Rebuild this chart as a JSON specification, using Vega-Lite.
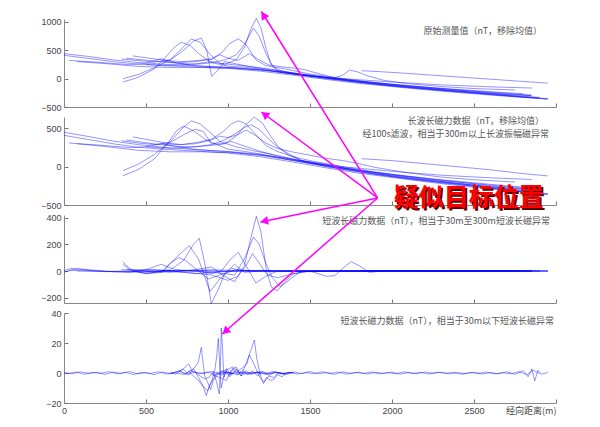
{
"$schema": "https://vega.github.io/schema/vega-lite/v6.json",
"autosize": {"type": "pad"},
"padding": {"left": 40, "top": 10, "right": 5, "bottom": 5},
"background": "white",
"spacing": 10,
"bounds": "flush",
"config": {
  "view": {"stroke": null},
  "axis": {"domainColor": "#888", "tickColor": "#777", "labelColor": "#444", "labelFont": "Liberation Sans", "labelFontSize": 9, "grid": false, "tickSize": -4, "labelPadding": 7, "labelOverlap": false, "labelFlush": false, "labelBound": false, "format": "d"}
},
"datasets": {
"raw": [
{"s":1,"x":0,"y":440},{"s":1,"x":150,"y":390},{"s":1,"x":300,"y":330},{"s":1,"x":450,"y":285},{"s":1,"x":600,"y":255},{"s":1,"x":800,"y":225},{"s":1,"x":1000,"y":195},{"s":1,"x":1200,"y":150},{"s":1,"x":1400,"y":80},{"s":1,"x":1600,"y":10},{"s":1,"x":1800,"y":-60},{"s":1,"x":2000,"y":-120},{"s":1,"x":2200,"y":-170},{"s":1,"x":2400,"y":-220},{"s":1,"x":2600,"y":-270},{"s":1,"x":2800,"y":-320},{"s":1,"x":2950,"y":-355},
{"s":2,"x":0,"y":410},{"s":2,"x":150,"y":355},{"s":2,"x":300,"y":300},{"s":2,"x":450,"y":255},{"s":2,"x":600,"y":230},{"s":2,"x":800,"y":205},{"s":2,"x":1000,"y":180},{"s":2,"x":1200,"y":130},{"s":2,"x":1400,"y":60},{"s":2,"x":1600,"y":-15},{"s":2,"x":1800,"y":-85},{"s":2,"x":2000,"y":-140},{"s":2,"x":2200,"y":-195},{"s":2,"x":2400,"y":-245},{"s":2,"x":2600,"y":-290},{"s":2,"x":2800,"y":-330},{"s":2,"x":2900,"y":-345},
{"s":3,"x":30,"y":320},{"s":3,"x":200,"y":290},{"s":3,"x":400,"y":245},{"s":3,"x":500,"y":270},{"s":3,"x":593,"y":350},{"s":3,"x":680,"y":280},{"s":3,"x":800,"y":225},{"s":3,"x":1000,"y":200},{"s":3,"x":1200,"y":160},{"s":3,"x":1400,"y":95},{"s":3,"x":1600,"y":25},{"s":3,"x":1800,"y":-45},{"s":3,"x":2000,"y":-105},{"s":3,"x":2200,"y":-150},{"s":3,"x":2400,"y":-200},{"s":3,"x":2600,"y":-250},{"s":3,"x":2850,"y":-300},
{"s":4,"x":80,"y":300},{"s":4,"x":250,"y":265},{"s":4,"x":450,"y":215},{"s":4,"x":650,"y":195},{"s":4,"x":850,"y":195},{"s":4,"x":1050,"y":180},{"s":4,"x":1250,"y":140},{"s":4,"x":1450,"y":70},{"s":4,"x":1650,"y":0},{"s":4,"x":1850,"y":-60},{"s":4,"x":2050,"y":-110},{"s":4,"x":2250,"y":-160},{"s":4,"x":2450,"y":-200},{"s":4,"x":2650,"y":-240},{"s":4,"x":2800,"y":-265},
{"s":5,"x":360,"y":-60},{"s":5,"x":450,"y":20},{"s":5,"x":550,"y":170},{"s":5,"x":620,"y":380},{"s":5,"x":680,"y":570},{"s":5,"x":715,"y":640},{"s":5,"x":770,"y":580},{"s":5,"x":830,"y":420},{"s":5,"x":900,"y":280},{"s":5,"x":1000,"y":220},{"s":5,"x":1100,"y":200},{"s":5,"x":1200,"y":165},{"s":5,"x":1300,"y":120},{"s":5,"x":1500,"y":40},{"s":5,"x":1700,"y":-30},{"s":5,"x":1900,"y":-100},{"s":5,"x":2100,"y":-160},{"s":5,"x":2300,"y":-210},{"s":5,"x":2500,"y":-255},{"s":5,"x":2700,"y":-300},{"s":5,"x":2950,"y":-360},
{"s":6,"x":360,"y":0},{"s":6,"x":450,"y":70},{"s":6,"x":550,"y":190},{"s":6,"x":650,"y":340},{"s":6,"x":720,"y":530},{"s":6,"x":776,"y":700},{"s":6,"x":830,"y":640},{"s":6,"x":890,"y":430},{"s":6,"x":950,"y":270},{"s":6,"x":1050,"y":240},{"s":6,"x":1150,"y":210},{"s":6,"x":1250,"y":170},{"s":6,"x":1400,"y":100},{"s":6,"x":1600,"y":20},{"s":6,"x":1800,"y":-50},{"s":6,"x":2000,"y":-110},{"s":6,"x":2200,"y":-165},{"s":6,"x":2400,"y":-215},{"s":6,"x":2600,"y":-265},{"s":6,"x":2800,"y":-310},{"s":6,"x":2900,"y":-330},
{"s":7,"x":350,"y":345},{"s":7,"x":450,"y":320},{"s":7,"x":550,"y":290},{"s":7,"x":650,"y":330},{"s":7,"x":730,"y":500},{"s":7,"x":790,"y":660},{"s":7,"x":837,"y":715},{"s":7,"x":870,"y":500},{"s":7,"x":900,"y":40},{"s":7,"x":940,"y":150},{"s":7,"x":980,"y":300},{"s":7,"x":1050,"y":260},{"s":7,"x":1150,"y":200},{"s":7,"x":1300,"y":140},{"s":7,"x":1500,"y":50},{"s":7,"x":1700,"y":-20},{"s":7,"x":1900,"y":-90},{"s":7,"x":2100,"y":-150},{"s":7,"x":2300,"y":-200},{"s":7,"x":2500,"y":-240},{"s":7,"x":2700,"y":-280},{"s":7,"x":2850,"y":-300},
{"s":8,"x":420,"y":400},{"s":8,"x":520,"y":360},{"s":8,"x":620,"y":320},{"s":8,"x":720,"y":300},{"s":8,"x":820,"y":320},{"s":8,"x":900,"y":350},{"s":8,"x":960,"y":450},{"s":8,"x":1010,"y":620},{"s":8,"x":1063,"y":700},{"s":8,"x":1110,"y":600},{"s":8,"x":1170,"y":330},{"s":8,"x":1230,"y":230},{"s":8,"x":1350,"y":170},{"s":8,"x":1500,"y":80},{"s":8,"x":1700,"y":0},{"s":8,"x":1900,"y":-70},{"s":8,"x":2100,"y":-130},{"s":8,"x":2300,"y":-180},{"s":8,"x":2500,"y":-220},{"s":8,"x":2700,"y":-260},{"s":8,"x":2850,"y":-290},
{"s":9,"x":500,"y":250},{"s":9,"x":650,"y":230},{"s":9,"x":800,"y":260},{"s":9,"x":900,"y":300},{"s":9,"x":980,"y":250},{"s":9,"x":1050,"y":330},{"s":9,"x":1100,"y":550},{"s":9,"x":1140,"y":880},{"s":9,"x":1173,"y":1060},{"s":9,"x":1200,"y":900},{"s":9,"x":1230,"y":550},{"s":9,"x":1260,"y":280},{"s":9,"x":1300,"y":130},{"s":9,"x":1350,"y":100},{"s":9,"x":1450,"y":60},{"s":9,"x":1600,"y":0},{"s":9,"x":1800,"y":-70},{"s":9,"x":2000,"y":-130},{"s":9,"x":2200,"y":-180},{"s":9,"x":2400,"y":-230},{"s":9,"x":2600,"y":-280},{"s":9,"x":2800,"y":-330},{"s":9,"x":2950,"y":-360},
{"s":10,"x":1815,"y":140},{"s":10,"x":2000,"y":110},{"s":10,"x":2200,"y":70},{"s":10,"x":2400,"y":30},{"s":10,"x":2600,"y":-10},{"s":10,"x":2800,"y":-50},{"s":10,"x":2950,"y":-80},
{"s":11,"x":380,"y":360},{"s":11,"x":480,"y":330},{"s":11,"x":580,"y":300},{"s":11,"x":700,"y":270},{"s":11,"x":800,"y":250},{"s":11,"x":900,"y":280},{"s":11,"x":980,"y":330},{"s":11,"x":1050,"y":420},{"s":11,"x":1100,"y":600},{"s":11,"x":1155,"y":890},{"s":11,"x":1190,"y":750},{"s":11,"x":1230,"y":450},{"s":11,"x":1270,"y":220},{"s":11,"x":1320,"y":140},{"s":11,"x":1450,"y":60},{"s":11,"x":1700,"y":0},{"s":11,"x":2000,"y":-60},{"s":11,"x":2300,"y":-110},{"s":11,"x":2600,"y":-145},{"s":11,"x":2853,"y":-166},
{"s":12,"x":600,"y":300},{"s":12,"x":700,"y":280},{"s":12,"x":800,"y":300},{"s":12,"x":900,"y":340},{"s":12,"x":950,"y":420},{"s":12,"x":1000,"y":360},{"s":12,"x":1060,"y":320},{"s":12,"x":1130,"y":440},{"s":12,"x":1190,"y":330},{"s":12,"x":1250,"y":240},{"s":12,"x":1350,"y":200},{"s":12,"x":1450,"y":170},{"s":12,"x":1550,"y":90},{"s":12,"x":1650,"y":15},{"s":12,"x":1700,"y":60},{"s":12,"x":1740,"y":150},{"s":12,"x":1790,"y":120},{"s":12,"x":1850,"y":50},{"s":12,"x":1950,"y":-30},{"s":12,"x":2100,"y":-90},{"s":12,"x":2300,"y":-140},{"s":12,"x":2500,"y":-175},{"s":12,"x":2750,"y":-200}
],
"long": [
{"s":1,"x":0,"y":450},{"s":1,"x":150,"y":395},{"s":1,"x":300,"y":335},{"s":1,"x":450,"y":290},{"s":1,"x":600,"y":255},{"s":1,"x":800,"y":225},{"s":1,"x":1000,"y":195},{"s":1,"x":1200,"y":150},{"s":1,"x":1400,"y":80},{"s":1,"x":1600,"y":10},{"s":1,"x":1800,"y":-60},{"s":1,"x":2000,"y":-120},{"s":1,"x":2200,"y":-170},{"s":1,"x":2400,"y":-220},{"s":1,"x":2600,"y":-270},{"s":1,"x":2800,"y":-320},{"s":1,"x":2950,"y":-355},
{"s":2,"x":0,"y":410},{"s":2,"x":150,"y":355},{"s":2,"x":300,"y":300},{"s":2,"x":450,"y":255},{"s":2,"x":600,"y":230},{"s":2,"x":800,"y":205},{"s":2,"x":1000,"y":180},{"s":2,"x":1200,"y":130},{"s":2,"x":1400,"y":60},{"s":2,"x":1600,"y":-15},{"s":2,"x":1800,"y":-85},{"s":2,"x":2000,"y":-140},{"s":2,"x":2200,"y":-195},{"s":2,"x":2400,"y":-245},{"s":2,"x":2600,"y":-290},{"s":2,"x":2800,"y":-330},{"s":2,"x":2900,"y":-345},
{"s":3,"x":30,"y":310},{"s":3,"x":200,"y":285},{"s":3,"x":400,"y":250},{"s":3,"x":500,"y":262},{"s":3,"x":593,"y":300},{"s":3,"x":680,"y":268},{"s":3,"x":800,"y":225},{"s":3,"x":1000,"y":200},{"s":3,"x":1200,"y":160},{"s":3,"x":1400,"y":95},{"s":3,"x":1600,"y":25},{"s":3,"x":1800,"y":-45},{"s":3,"x":2000,"y":-105},{"s":3,"x":2200,"y":-150},{"s":3,"x":2400,"y":-200},{"s":3,"x":2600,"y":-250},{"s":3,"x":2850,"y":-300},
{"s":4,"x":80,"y":300},{"s":4,"x":250,"y":265},{"s":4,"x":450,"y":215},{"s":4,"x":650,"y":195},{"s":4,"x":850,"y":195},{"s":4,"x":1050,"y":180},{"s":4,"x":1250,"y":140},{"s":4,"x":1450,"y":70},{"s":4,"x":1650,"y":0},{"s":4,"x":1850,"y":-60},{"s":4,"x":2050,"y":-110},{"s":4,"x":2250,"y":-160},{"s":4,"x":2450,"y":-200},{"s":4,"x":2650,"y":-240},{"s":4,"x":2800,"y":-265},
{"s":5,"x":360,"y":-117},{"s":5,"x":450,"y":-40},{"s":5,"x":550,"y":100},{"s":5,"x":630,"y":300},{"s":5,"x":690,"y":480},{"s":5,"x":730,"y":530},{"s":5,"x":790,"y":470},{"s":5,"x":860,"y":360},{"s":5,"x":930,"y":290},{"s":5,"x":1000,"y":230},{"s":5,"x":1100,"y":200},{"s":5,"x":1200,"y":165},{"s":5,"x":1300,"y":120},{"s":5,"x":1500,"y":40},{"s":5,"x":1700,"y":-30},{"s":5,"x":1900,"y":-100},{"s":5,"x":2100,"y":-160},{"s":5,"x":2300,"y":-210},{"s":5,"x":2500,"y":-255},{"s":5,"x":2700,"y":-300},{"s":5,"x":2950,"y":-360},
{"s":6,"x":360,"y":-50},{"s":6,"x":450,"y":30},{"s":6,"x":550,"y":160},{"s":6,"x":650,"y":330},{"s":6,"x":720,"y":500},{"s":6,"x":776,"y":600},{"s":6,"x":830,"y":560},{"s":6,"x":890,"y":450},{"s":6,"x":950,"y":330},{"s":6,"x":1050,"y":260},{"s":6,"x":1150,"y":210},{"s":6,"x":1250,"y":170},{"s":6,"x":1400,"y":100},{"s":6,"x":1600,"y":20},{"s":6,"x":1800,"y":-50},{"s":6,"x":2000,"y":-110},{"s":6,"x":2200,"y":-165},{"s":6,"x":2400,"y":-215},{"s":6,"x":2600,"y":-265},{"s":6,"x":2800,"y":-310},{"s":6,"x":2900,"y":-330},
{"s":7,"x":350,"y":340},{"s":7,"x":450,"y":310},{"s":7,"x":550,"y":290},{"s":7,"x":650,"y":320},{"s":7,"x":730,"y":420},{"s":7,"x":800,"y":490},{"s":7,"x":850,"y":460},{"s":7,"x":900,"y":300},{"s":7,"x":960,"y":300},{"s":7,"x":1020,"y":330},{"s":7,"x":1100,"y":270},{"s":7,"x":1200,"y":200},{"s":7,"x":1300,"y":140},{"s":7,"x":1500,"y":50},{"s":7,"x":1700,"y":-20},{"s":7,"x":1900,"y":-90},{"s":7,"x":2100,"y":-150},{"s":7,"x":2300,"y":-200},{"s":7,"x":2500,"y":-240},{"s":7,"x":2700,"y":-280},{"s":7,"x":2850,"y":-300},
{"s":8,"x":420,"y":390},{"s":8,"x":520,"y":350},{"s":8,"x":620,"y":310},{"s":8,"x":720,"y":290},{"s":8,"x":820,"y":320},{"s":8,"x":900,"y":360},{"s":8,"x":970,"y":460},{"s":8,"x":1020,"y":560},{"s":8,"x":1063,"y":600},{"s":8,"x":1110,"y":560},{"s":8,"x":1170,"y":420},{"s":8,"x":1230,"y":280},{"s":8,"x":1300,"y":200},{"s":8,"x":1400,"y":130},{"s":8,"x":1500,"y":80},{"s":8,"x":1700,"y":0},{"s":8,"x":1900,"y":-70},{"s":8,"x":2100,"y":-130},{"s":8,"x":2300,"y":-180},{"s":8,"x":2500,"y":-220},{"s":8,"x":2700,"y":-260},{"s":8,"x":2850,"y":-290},
{"s":9,"x":500,"y":260},{"s":9,"x":650,"y":240},{"s":9,"x":800,"y":260},{"s":9,"x":900,"y":280},{"s":9,"x":980,"y":300},{"s":9,"x":1050,"y":400},{"s":9,"x":1100,"y":530},{"s":9,"x":1160,"y":650},{"s":9,"x":1210,"y":570},{"s":9,"x":1260,"y":400},{"s":9,"x":1310,"y":250},{"s":9,"x":1370,"y":150},{"s":9,"x":1450,"y":80},{"s":9,"x":1600,"y":0},{"s":9,"x":1800,"y":-70},{"s":9,"x":2000,"y":-130},{"s":9,"x":2200,"y":-180},{"s":9,"x":2400,"y":-230},{"s":9,"x":2600,"y":-280},{"s":9,"x":2800,"y":-330},{"s":9,"x":2950,"y":-360},
{"s":10,"x":1815,"y":105},{"s":10,"x":2000,"y":80},{"s":10,"x":2200,"y":40},{"s":10,"x":2400,"y":0},{"s":10,"x":2600,"y":-40},{"s":10,"x":2800,"y":-90},{"s":10,"x":2950,"y":-120},
{"s":11,"x":380,"y":350},{"s":11,"x":480,"y":320},{"s":11,"x":580,"y":290},{"s":11,"x":700,"y":265},{"s":11,"x":800,"y":260},{"s":11,"x":900,"y":290},{"s":11,"x":980,"y":350},{"s":11,"x":1050,"y":440},{"s":11,"x":1100,"y":510},{"s":11,"x":1140,"y":550},{"s":11,"x":1190,"y":490},{"s":11,"x":1240,"y":380},{"s":11,"x":1300,"y":260},{"s":11,"x":1370,"y":170},{"s":11,"x":1450,"y":80},{"s":11,"x":1700,"y":0},{"s":11,"x":2000,"y":-60},{"s":11,"x":2300,"y":-110},{"s":11,"x":2600,"y":-145},{"s":11,"x":2853,"y":-166},
{"s":12,"x":600,"y":300},{"s":12,"x":700,"y":290},{"s":12,"x":800,"y":300},{"s":12,"x":900,"y":350},{"s":12,"x":950,"y":400},{"s":12,"x":1000,"y":380},{"s":12,"x":1060,"y":420},{"s":12,"x":1110,"y":480},{"s":12,"x":1160,"y":420},{"s":12,"x":1230,"y":310},{"s":12,"x":1300,"y":240},{"s":12,"x":1400,"y":190},{"s":12,"x":1500,"y":150},{"s":12,"x":1600,"y":110},{"s":12,"x":1700,"y":80},{"s":12,"x":1800,"y":40},{"s":12,"x":1900,"y":-10},{"s":12,"x":2100,"y":-80},{"s":12,"x":2300,"y":-135},{"s":12,"x":2500,"y":-170},{"s":12,"x":2750,"y":-200}
],
"mid": [
{"s":1,"x":0,"y":0},{"s":1,"x":40,"y":20},{"s":1,"x":80,"y":18},{"s":1,"x":150,"y":5},{"s":1,"x":250,"y":-5},{"s":1,"x":350,"y":0},{"s":1,"x":500,"y":-5},{"s":1,"x":700,"y":5},{"s":1,"x":900,"y":-10},{"s":1,"x":1100,"y":5},{"s":1,"x":1300,"y":0},{"s":1,"x":1500,"y":-5},{"s":1,"x":1700,"y":0},{"s":1,"x":2000,"y":3},{"s":1,"x":2300,"y":-2},{"s":1,"x":2600,"y":2},{"s":1,"x":2950,"y":0},
{"s":2,"x":0,"y":-10},{"s":2,"x":50,"y":10},{"s":2,"x":100,"y":15},{"s":2,"x":200,"y":5},{"s":2,"x":300,"y":-5},{"s":2,"x":500,"y":0},{"s":2,"x":800,"y":5},{"s":2,"x":1000,"y":-5},{"s":2,"x":1200,"y":5},{"s":2,"x":1500,"y":0},{"s":2,"x":1800,"y":-3},{"s":2,"x":2100,"y":2},{"s":2,"x":2500,"y":0},{"s":2,"x":2900,"y":0},
{"s":3,"x":30,"y":5},{"s":3,"x":200,"y":0},{"s":3,"x":400,"y":-10},{"s":3,"x":500,"y":10},{"s":3,"x":593,"y":50},{"s":3,"x":680,"y":10},{"s":3,"x":800,"y":0},{"s":3,"x":1000,"y":0},{"s":3,"x":1400,"y":0},{"s":3,"x":1800,"y":0},{"s":3,"x":2200,"y":0},{"s":3,"x":2850,"y":0},
{"s":4,"x":80,"y":0},{"s":4,"x":300,"y":-5},{"s":4,"x":500,"y":-10},{"s":4,"x":700,"y":0},{"s":4,"x":900,"y":10},{"s":4,"x":1100,"y":0},{"s":4,"x":1300,"y":-5},{"s":4,"x":1600,"y":0},{"s":4,"x":2000,"y":0},{"s":4,"x":2400,"y":0},{"s":4,"x":2800,"y":0},
{"s":5,"x":360,"y":70},{"s":5,"x":380,"y":40},{"s":5,"x":420,"y":0},{"s":5,"x":500,"y":-20},{"s":5,"x":600,"y":-10},{"s":5,"x":650,"y":60},{"s":5,"x":700,"y":100},{"s":5,"x":740,"y":80},{"s":5,"x":800,"y":20},{"s":5,"x":880,"y":-60},{"s":5,"x":950,"y":-30},{"s":5,"x":1050,"y":10},{"s":5,"x":1150,"y":0},{"s":5,"x":1300,"y":0},{"s":5,"x":1700,"y":0},{"s":5,"x":2200,"y":0},{"s":5,"x":2950,"y":0},
{"s":6,"x":360,"y":50},{"s":6,"x":400,"y":10},{"s":6,"x":500,"y":-20},{"s":6,"x":600,"y":0},{"s":6,"x":700,"y":120},{"s":6,"x":764,"y":190},{"s":6,"x":820,"y":90},{"s":6,"x":890,"y":-154},{"s":6,"x":950,"y":-60},{"s":6,"x":1020,"y":20},{"s":6,"x":1100,"y":0},{"s":6,"x":1300,"y":0},{"s":6,"x":1600,"y":0},{"s":6,"x":2000,"y":0},{"s":6,"x":2500,"y":0},{"s":6,"x":2900,"y":0},
{"s":7,"x":350,"y":10},{"s":7,"x":450,"y":5},{"s":7,"x":550,"y":-10},{"s":7,"x":650,"y":10},{"s":7,"x":730,"y":80},{"s":7,"x":790,"y":200},{"s":7,"x":825,"y":246},{"s":7,"x":860,"y":50},{"s":7,"x":898,"y":-246},{"s":7,"x":940,"y":-140},{"s":7,"x":980,"y":-20},{"s":7,"x":1040,"y":50},{"s":7,"x":1100,"y":-10},{"s":7,"x":1200,"y":0},{"s":7,"x":1500,"y":0},{"s":7,"x":2000,"y":0},{"s":7,"x":2850,"y":0},
{"s":8,"x":420,"y":0},{"s":8,"x":550,"y":10},{"s":8,"x":700,"y":0},{"s":8,"x":820,"y":0},{"s":8,"x":900,"y":-20},{"s":8,"x":960,"y":0},{"s":8,"x":1010,"y":80},{"s":8,"x":1063,"y":140},{"s":8,"x":1110,"y":40},{"s":8,"x":1170,"y":-90},{"s":8,"x":1230,"y":-40},{"s":8,"x":1300,"y":0},{"s":8,"x":1500,"y":0},{"s":8,"x":2000,"y":0},{"s":8,"x":2850,"y":0},
{"s":9,"x":500,"y":0},{"s":9,"x":650,"y":-10},{"s":9,"x":800,"y":10},{"s":9,"x":900,"y":30},{"s":9,"x":980,"y":-40},{"s":9,"x":1040,"y":-80},{"s":9,"x":1100,"y":40},{"s":9,"x":1140,"y":250},{"s":9,"x":1173,"y":410},{"s":9,"x":1200,"y":300},{"s":9,"x":1235,"y":0},{"s":9,"x":1265,"y":-120},{"s":9,"x":1300,"y":-150},{"s":9,"x":1340,"y":-90},{"s":9,"x":1400,"y":-20},{"s":9,"x":1500,"y":0},{"s":9,"x":2000,"y":0},{"s":9,"x":2950,"y":0},
{"s":10,"x":1815,"y":0},{"s":10,"x":2000,"y":0},{"s":10,"x":2400,"y":0},{"s":10,"x":2950,"y":0},
{"s":11,"x":380,"y":10},{"s":11,"x":500,"y":10},{"s":11,"x":650,"y":0},{"s":11,"x":800,"y":-20},{"s":11,"x":900,"y":-10},{"s":11,"x":980,"y":-20},{"s":11,"x":1040,"y":-30},{"s":11,"x":1100,"y":90},{"s":11,"x":1155,"y":254},{"s":11,"x":1190,"y":200},{"s":11,"x":1230,"y":60},{"s":11,"x":1270,"y":-50},{"s":11,"x":1320,"y":-120},{"s":11,"x":1380,"y":-60},{"s":11,"x":1450,"y":0},{"s":11,"x":2000,"y":0},{"s":11,"x":2853,"y":0},
{"s":12,"x":600,"y":0},{"s":12,"x":750,"y":-10},{"s":12,"x":900,"y":-30},{"s":12,"x":1000,"y":-70},{"s":12,"x":1060,"y":-40},{"s":12,"x":1110,"y":40},{"s":12,"x":1150,"y":130},{"s":12,"x":1190,"y":60},{"s":12,"x":1240,"y":-30},{"s":12,"x":1300,"y":-50},{"s":12,"x":1400,"y":-20},{"s":12,"x":1500,"y":0},{"s":12,"x":1600,"y":-40},{"s":12,"x":1650,"y":-35},{"s":12,"x":1700,"y":20},{"s":12,"x":1750,"y":70},{"s":12,"x":1800,"y":40},{"s":12,"x":1860,"y":-10},{"s":12,"x":1950,"y":0},{"s":12,"x":2200,"y":0},{"s":12,"x":2750,"y":0}
],
"short": [
{"s":1,"x":0,"y":0.3},{"s":1,"x":50,"y":-0.5},{"s":1,"x":100,"y":0.8},{"s":1,"x":150,"y":-0.2},{"s":1,"x":200,"y":0.4},{"s":1,"x":250,"y":-0.9},{"s":1,"x":300,"y":0.6},{"s":1,"x":350,"y":-0.3},{"s":1,"x":400,"y":1.0},{"s":1,"x":450,"y":-0.6},{"s":1,"x":500,"y":0.2},{"s":1,"x":550,"y":-1.1},{"s":1,"x":600,"y":0.7},{"s":1,"x":650,"y":-0.4},{"s":1,"x":700,"y":1.2},{"s":1,"x":750,"y":-0.8},{"s":1,"x":800,"y":0.5},{"s":1,"x":850,"y":-0.3},{"s":1,"x":900,"y":1.1},{"s":1,"x":950,"y":-0.7},{"s":1,"x":1000,"y":0.4},{"s":1,"x":1050,"y":-0.9},{"s":1,"x":1100,"y":0.6},{"s":1,"x":1150,"y":-0.2},{"s":1,"x":1200,"y":0.9},{"s":1,"x":1250,"y":-0.6},{"s":1,"x":1300,"y":0.3},{"s":1,"x":1350,"y":-0.8},{"s":1,"x":1400,"y":0.7},{"s":1,"x":1450,"y":-0.4},{"s":1,"x":1500,"y":1.0},{"s":1,"x":1550,"y":-0.5},{"s":1,"x":1600,"y":0.2},{"s":1,"x":1650,"y":-0.9},{"s":1,"x":1700,"y":0.8},{"s":1,"x":1750,"y":-0.3},{"s":1,"x":1800,"y":0.5},{"s":1,"x":1850,"y":-0.7},{"s":1,"x":1900,"y":0.4},{"s":1,"x":1950,"y":-0.2},{"s":1,"x":2000,"y":0.6},{"s":1,"x":2050,"y":-0.8},{"s":1,"x":2100,"y":0.3},{"s":1,"x":2150,"y":-0.5},{"s":1,"x":2200,"y":0.7},{"s":1,"x":2250,"y":-0.3},{"s":1,"x":2300,"y":0.5},{"s":1,"x":2350,"y":-0.6},{"s":1,"x":2400,"y":0.2},{"s":1,"x":2450,"y":-0.4},{"s":1,"x":2500,"y":0.6},{"s":1,"x":2550,"y":-0.7},{"s":1,"x":2600,"y":0.3},{"s":1,"x":2650,"y":-0.5},{"s":1,"x":2700,"y":0.8},{"s":1,"x":2750,"y":-0.9},{"s":1,"x":2800,"y":1.5},{"s":1,"x":2830,"y":-2.5},{"s":1,"x":2853,"y":2.7},{"s":1,"x":2870,"y":-5.3},{"s":1,"x":2890,"y":1.8},{"s":1,"x":2910,"y":-0.8},{"s":1,"x":2950,"y":0.3},
{"s":2,"x":25,"y":-0.4},{"s":2,"x":75,"y":0.6},{"s":2,"x":125,"y":-0.8},{"s":2,"x":175,"y":0.3},{"s":2,"x":225,"y":-0.2},{"s":2,"x":275,"y":0.9},{"s":2,"x":325,"y":-0.6},{"s":2,"x":375,"y":0.4},{"s":2,"x":425,"y":-1.0},{"s":2,"x":475,"y":0.5},{"s":2,"x":525,"y":-0.3},{"s":2,"x":575,"y":0.8},{"s":2,"x":625,"y":-0.7},{"s":2,"x":675,"y":0.2},{"s":2,"x":725,"y":-0.9},{"s":2,"x":775,"y":1.3},{"s":2,"x":825,"y":-0.5},{"s":2,"x":875,"y":0.6},{"s":2,"x":925,"y":-1.2},{"s":2,"x":975,"y":0.8},{"s":2,"x":1025,"y":-0.4},{"s":2,"x":1075,"y":0.7},{"s":2,"x":1125,"y":-0.8},{"s":2,"x":1175,"y":0.5},{"s":2,"x":1225,"y":-0.3},{"s":2,"x":1275,"y":0.9},{"s":2,"x":1325,"y":-0.6},{"s":2,"x":1375,"y":0.4},{"s":2,"x":1425,"y":-0.7},{"s":2,"x":1475,"y":0.3},{"s":2,"x":1525,"y":-0.5},{"s":2,"x":1575,"y":0.8},{"s":2,"x":1625,"y":-0.2},{"s":2,"x":1675,"y":0.6},{"s":2,"x":1725,"y":-0.8},{"s":2,"x":1775,"y":0.4},{"s":2,"x":1825,"y":-0.3},{"s":2,"x":1875,"y":0.7},{"s":2,"x":1925,"y":-0.6},{"s":2,"x":1975,"y":0.2},{"s":2,"x":2025,"y":-0.5},{"s":2,"x":2075,"y":0.8},{"s":2,"x":2125,"y":-0.3},{"s":2,"x":2175,"y":0.4},{"s":2,"x":2225,"y":-0.7},{"s":2,"x":2275,"y":0.6},{"s":2,"x":2325,"y":-0.2},{"s":2,"x":2375,"y":0.5},{"s":2,"x":2425,"y":-0.8},{"s":2,"x":2475,"y":0.3},{"s":2,"x":2525,"y":-0.4},{"s":2,"x":2575,"y":0.7},{"s":2,"x":2625,"y":-0.6},{"s":2,"x":2675,"y":0.2},{"s":2,"x":2725,"y":-0.5},{"s":2,"x":2775,"y":0.9},{"s":2,"x":2825,"y":-1.2},{"s":2,"x":2860,"y":1.9},{"s":2,"x":2900,"y":-0.4},
{"s":3,"x":650,"y":0.5},{"s":3,"x":680,"y":-0.8},{"s":3,"x":710,"y":1.5},{"s":3,"x":740,"y":-1.0},{"s":3,"x":770,"y":2.0},{"s":3,"x":800,"y":0.5},{"s":3,"x":830,"y":-2.0},{"s":3,"x":860,"y":-4.0},{"s":3,"x":890,"y":-2.5},{"s":3,"x":910,"y":1.0},{"s":3,"x":930,"y":-6.0},{"s":3,"x":947,"y":-14},{"s":3,"x":955,"y":10},{"s":3,"x":959,"y":30},{"s":3,"x":966,"y":18},{"s":3,"x":975,"y":-3},{"s":3,"x":990,"y":1.5},{"s":3,"x":1010,"y":-2.5},{"s":3,"x":1030,"y":3.0},{"s":3,"x":1060,"y":-1.5},{"s":3,"x":1090,"y":2.0},{"s":3,"x":1120,"y":-1.0},{"s":3,"x":1150,"y":1.5},{"s":3,"x":1180,"y":-2.0},{"s":3,"x":1210,"y":1.0},{"s":3,"x":1250,"y":-1.5},{"s":3,"x":1290,"y":0.8},{"s":3,"x":1330,"y":-0.5},{"s":3,"x":1380,"y":0.3},
{"s":4,"x":650,"y":-0.5},{"s":4,"x":690,"y":1.0},{"s":4,"x":730,"y":2.5},{"s":4,"x":760,"y":-1.5},{"s":4,"x":790,"y":3.0},{"s":4,"x":820,"y":-3.0},{"s":4,"x":845,"y":-8.0},{"s":4,"x":868,"y":-15},{"s":4,"x":885,"y":-9},{"s":4,"x":905,"y":-4},{"s":4,"x":920,"y":2.0},{"s":4,"x":932,"y":12},{"s":4,"x":941,"y":23},{"s":4,"x":948,"y":8},{"s":4,"x":958,"y":-10},{"s":4,"x":970,"y":-4},{"s":4,"x":990,"y":3.0},{"s":4,"x":1020,"y":-1.5},{"s":4,"x":1050,"y":2.5},{"s":4,"x":1080,"y":-2.0},{"s":4,"x":1110,"y":1.5},{"s":4,"x":1140,"y":-1.0},{"s":4,"x":1180,"y":0.8},{"s":4,"x":1230,"y":-1.0},{"s":4,"x":1280,"y":0.6},{"s":4,"x":1350,"y":-0.3},
{"s":5,"x":700,"y":0.8},{"s":5,"x":730,"y":3.0},{"s":5,"x":760,"y":6.0},{"s":5,"x":780,"y":2.0},{"s":5,"x":800,"y":4.0},{"s":5,"x":818,"y":7.0},{"s":5,"x":828,"y":12},{"s":5,"x":837,"y":17},{"s":5,"x":846,"y":9},{"s":5,"x":858,"y":-2},{"s":5,"x":875,"y":-6},{"s":5,"x":895,"y":-11},{"s":5,"x":910,"y":-5},{"s":5,"x":930,"y":-2},{"s":5,"x":960,"y":1.5},{"s":5,"x":1000,"y":-1.0},{"s":5,"x":1050,"y":1.2},{"s":5,"x":1100,"y":-0.8},{"s":5,"x":1150,"y":0.5},{"s":5,"x":1200,"y":-0.5},
{"s":6,"x":950,"y":0.5},{"s":6,"x":1000,"y":2.5},{"s":6,"x":1030,"y":4.0},{"s":6,"x":1060,"y":1.5},{"s":6,"x":1090,"y":3.5},{"s":6,"x":1115,"y":6.0},{"s":6,"x":1130,"y":12},{"s":6,"x":1145,"y":17},{"s":6,"x":1161,"y":22},{"s":6,"x":1175,"y":10},{"s":6,"x":1190,"y":2.0},{"s":6,"x":1205,"y":-4.0},{"s":6,"x":1216,"y":-7.0},{"s":6,"x":1235,"y":-3.0},{"s":6,"x":1260,"y":-5.0},{"s":6,"x":1283,"y":-4.0},{"s":6,"x":1300,"y":-1.0},{"s":6,"x":1330,"y":-2.5},{"s":6,"x":1360,"y":0.5},{"s":6,"x":1400,"y":0.2},
{"s":7,"x":900,"y":-1.0},{"s":7,"x":950,"y":-3.0},{"s":7,"x":990,"y":-5.0},{"s":7,"x":1020,"y":2.0},{"s":7,"x":1050,"y":4.0},{"s":7,"x":1080,"y":-2.0},{"s":7,"x":1105,"y":5.0},{"s":7,"x":1130,"y":12},{"s":7,"x":1150,"y":8.0},{"s":7,"x":1170,"y":3.0},{"s":7,"x":1195,"y":-3.0},{"s":7,"x":1220,"y":-6.0},{"s":7,"x":1250,"y":-2.0},{"s":7,"x":1280,"y":-3.0},{"s":7,"x":1310,"y":0.5},{"s":7,"x":1350,"y":-1.0},{"s":7,"x":1400,"y":0.3},
{"s":8,"x":760,"y":1.0},{"s":8,"x":790,"y":-2.0},{"s":8,"x":820,"y":-5.0},{"s":8,"x":850,"y":-9.0},{"s":8,"x":875,"y":-12},{"s":8,"x":895,"y":-7.0},{"s":8,"x":915,"y":-3.0},{"s":8,"x":935,"y":0.8},{"s":8,"x":960,"y":-1.5},{"s":8,"x":990,"y":0.8},{"s":8,"x":1030,"y":-0.5}
]
},
"vconcat": [
{
 "width": 492, "height": 88,
 "encoding": {
   "x": {"field": "x", "type": "quantitative", "scale": {"domain": [0, 3000], "nice": false, "zero": false}, "axis": {"values": [0,500,1000,1500,2000,2500,3000], "labels": false, "title": null}},
   "y": {"field": "y", "type": "quantitative", "scale": {"domain": [-500, 1050], "nice": false, "zero": false}, "axis": {"values": [-500,0,500,1000], "title": null, "labelOverlap": false}}
 },
 "layer": [
  {"data": {"name": "raw"},
   "mark": {"type": "line", "stroke": "#0000ff", "strokeOpacity": 0.42, "strokeWidth": 1},
   "encoding": {"detail": {"field": "s", "type": "nominal"}}},
  {"data": {"values": [{"x": 2915, "y": 838, "t": "原始测量值（nT，移除均值）"}]},
   "mark": {"type": "text", "align": "right", "baseline": "middle", "font": "Noto Sans CJK SC", "fontSize": 9, "color": "#555"},
   "encoding": {"text": {"field": "t"}}}
 ]
},
{
 "width": 492, "height": 88,
 "encoding": {
   "x": {"field": "x", "type": "quantitative", "scale": {"domain": [0, 3000], "nice": false, "zero": false}, "axis": {"values": [0,500,1000,1500,2000,2500,3000], "labels": false, "title": null}},
   "y": {"field": "y", "type": "quantitative", "scale": {"domain": [-500, 650], "nice": false, "zero": false}, "axis": {"values": [-500,0,500], "title": null, "labelOverlap": false}}
 },
 "layer": [
  {"data": {"name": "long"},
   "mark": {"type": "line", "stroke": "#0000ff", "strokeOpacity": 0.42, "strokeWidth": 1},
   "encoding": {"detail": {"field": "s", "type": "nominal"}}},
  {"data": {"values": [{"x": 2927, "y": 597, "t": "长波长磁力数据（nT，移除均值）"}, {"x": 2957, "y": 427, "t": "经100s滤波，相当于300m以上长波振幅磁异常"}]},
   "mark": {"type": "text", "align": "right", "baseline": "middle", "font": "Noto Sans CJK SC", "fontSize": 9, "color": "#555"},
   "encoding": {"text": {"field": "t"}}}
 ]
},
{
 "width": 492, "height": 88,
 "encoding": {
   "x": {"field": "x", "type": "quantitative", "scale": {"domain": [0, 3000], "nice": false, "zero": false}, "axis": {"values": [0,500,1000,1500,2000,2500,3000], "labels": false, "title": null}},
   "y": {"field": "y", "type": "quantitative", "scale": {"domain": [-240, 420], "nice": false, "zero": false}, "axis": {"values": [-200,0,200,400], "title": null, "labelOverlap": false}}
 },
 "layer": [
  {"data": {"name": "mid"},
   "mark": {"type": "line", "stroke": "#0000ff", "strokeOpacity": 0.42, "strokeWidth": 1},
   "encoding": {"detail": {"field": "s", "type": "nominal"}}},
  {"data": {"values": [{"x": 2963, "y": 375, "t": "短波长磁力数据（nT），相当于30m至300m短波长磁异常"}]},
   "mark": {"type": "text", "align": "right", "baseline": "middle", "font": "Noto Sans CJK SC", "fontSize": 9, "color": "#555"},
   "encoding": {"text": {"field": "t"}}}
 ]
},
{
 "width": 492, "height": 90,
 "encoding": {
   "x": {"field": "x", "type": "quantitative", "scale": {"domain": [0, 3000], "nice": false, "zero": false},
         "axis": {"values": [0,500,1000,1500,2000,2500,3000], "title": null,
                  "labelExpr": "datum.value == 3000 ? '经向距离(m)' : datum.label",
                  "labelAlign": {"condition": {"test": "datum.value == 3000", "value": "right"}, "value": "center"},
                  "labelFont": {"condition": {"test": "datum.value == 3000", "value": "Noto Sans CJK SC"}, "value": "Liberation Sans"}}},
   "y": {"field": "y", "type": "quantitative", "scale": {"domain": [-20, 40], "nice": false, "zero": false}, "axis": {"values": [-20,0,20,40], "title": null, "labelOverlap": false}}
 },
 "layer": [
  {"data": {"name": "short"},
   "mark": {"type": "line", "stroke": "#0000ff", "strokeOpacity": 0.42, "strokeWidth": 1},
   "encoding": {"detail": {"field": "s", "type": "nominal"}}},
  {"data": {"values": [{"x": 2988, "y": 34.7, "t": "短波长磁力数据（nT），相当于30m以下短波长磁异常"}]},
   "mark": {"type": "text", "align": "right", "baseline": "middle", "font": "Noto Sans CJK SC", "fontSize": 9, "color": "#555"},
   "encoding": {"text": {"field": "t"}}},
  {"data": {"values": [{"x": 1912, "y": 116.7, "x2": 1204, "y2": 241}, {"x": 1912, "y": 116.7, "x2": 1204, "y2": 174}, {"x": 1912, "y": 116.7, "x2": 1198, "y2": 100.7}, {"x": 1912, "y": 116.7, "x2": 965, "y2": 26}]},
   "mark": {"type": "rule", "color": "#ff00ff", "strokeWidth": 1.5},
   "encoding": {"x2": {"field": "x2"}, "y2": {"field": "y2"}}},
  {"data": {"values": [{"x": 1216, "y": 238.6}]},
   "mark": {"type": "point", "shape": "triangle-up", "filled": true, "color": "#ff00ff", "opacity": 1, "size": 80, "angle": 328},
   "encoding": {}},
  {"data": {"values": [{"x": 1223, "y": 172.4}]},
   "mark": {"type": "point", "shape": "triangle-up", "filled": true, "color": "#ff00ff", "opacity": 1, "size": 80, "angle": 306.6},
   "encoding": {}},
  {"data": {"values": [{"x": 1221, "y": 101.2}]},
   "mark": {"type": "point", "shape": "triangle-up", "filled": true, "color": "#ff00ff", "opacity": 1, "size": 80, "angle": 258.4},
   "encoding": {}},
  {"data": {"values": [{"x": 984, "y": 27.7}]},
   "mark": {"type": "point", "shape": "triangle-up", "filled": true, "color": "#ff00ff", "opacity": 1, "size": 80, "angle": 228.7},
   "encoding": {}},
  {"data": {"values": [{"x": 2468, "y": 116.5, "t": "疑似目标位置"}]},
   "mark": {"type": "text", "font": "Noto Sans CJK SC", "fontSize": 25, "fontWeight": "bold", "color": "#5a0000", "dx": 2, "dy": 2, "baseline": "middle"},
   "encoding": {"text": {"field": "t"}}},
  {"data": {"values": [{"x": 2468, "y": 116.5, "t": "疑似目标位置"}]},
   "mark": {"type": "text", "font": "Noto Sans CJK SC", "fontSize": 25, "fontWeight": "bold", "color": "#ff0000", "baseline": "middle"},
   "encoding": {"text": {"field": "t"}}}
 ]
}
]
}
